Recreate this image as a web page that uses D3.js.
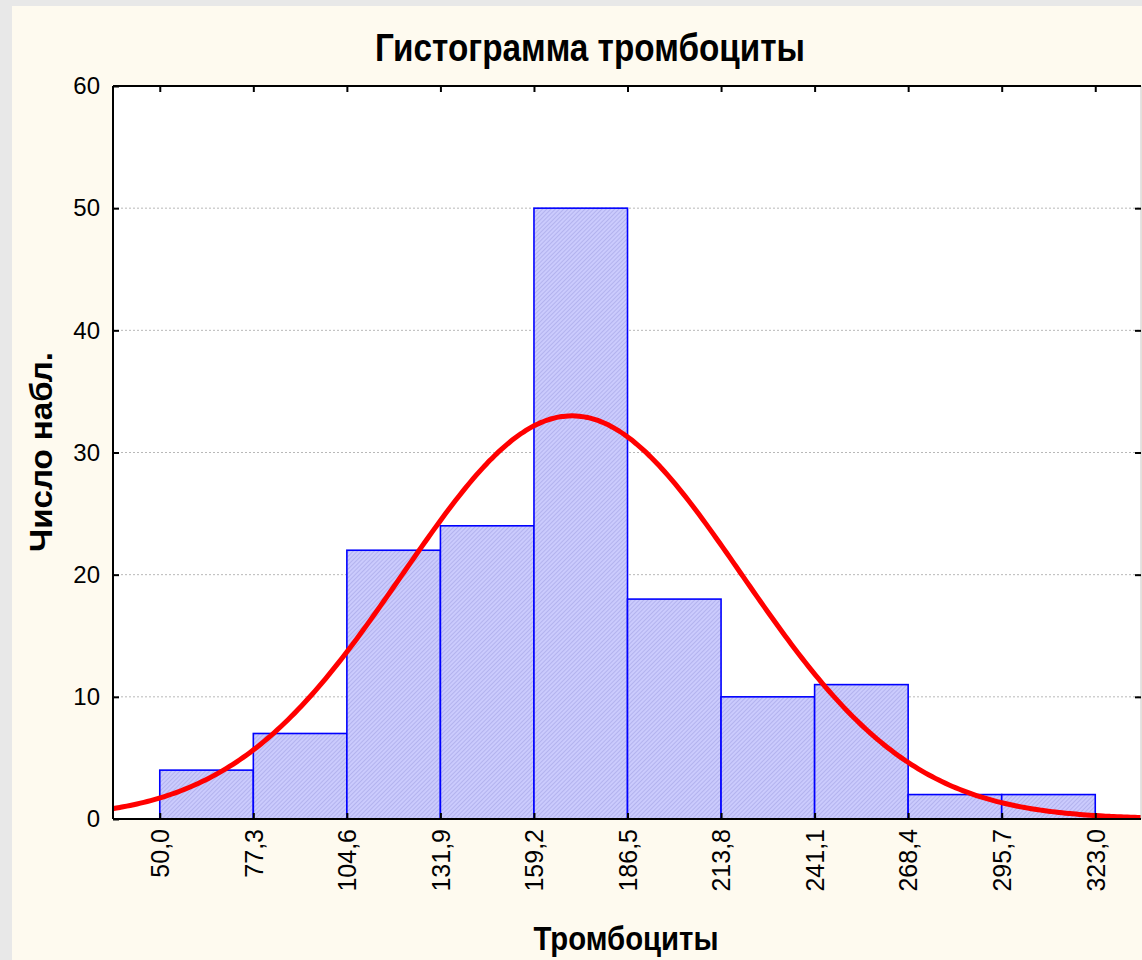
<!DOCTYPE html>
<html><head><meta charset="utf-8">
<script src="https://cdn.jsdelivr.net/npm/d3@7/dist/d3.min.js"></script>
<style>
html,body{margin:0;padding:0;background:#e8e8e8;}
svg{display:block;}
</style></head>
<body>
<script>
const binStarts = [36.35, 63.65, 90.95, 118.25, 145.55, 172.85, 200.15, 227.45, 254.75, 282.05];
const binWidth = 27.3;
const counts = [4, 7, 22, 24, 50, 18, 10, 11, 2, 2];
const xTickValues = [50.0, 77.3, 104.6, 131.9, 159.2, 186.5, 213.8, 241.1, 268.4, 295.7, 323.0];
const yTickValues = [0, 10, 20, 30, 40, 50, 60];
const fitMean = 170.3;
const fitSd = 49.5;
const totalN = 150;

const W = 1142, H = 960;
const m = {left: 113, top: 86, right: 1141, bottom: 819};

const svg = d3.select("body").append("svg").attr("width", W).attr("height", H);
svg.append("rect").attr("x", 12).attr("y", 6).attr("width", W - 12).attr("height", H - 6).attr("fill", "#fefaef");

const defs = svg.append("defs");
const pat = defs.append("pattern").attr("id", "hatch").attr("patternUnits", "userSpaceOnUse")
  .attr("width", 3).attr("height", 3).attr("patternTransform", "rotate(45)");
pat.append("rect").attr("width", 3).attr("height", 3).attr("fill", "#cbcbfd");
pat.append("rect").attr("width", 1).attr("height", 3).attr("fill", "#b3b3ee");
defs.append("clipPath").attr("id", "clip").append("rect")
  .attr("x", m.left).attr("y", m.top).attr("width", m.right - m.left).attr("height", m.bottom - m.top);

const x = d3.scaleLinear().domain([36.35, 336.35]).range([m.left, m.right]);
const y = d3.scaleLinear().domain([0, 60]).range([m.bottom, m.top]);

svg.append("rect").attr("x", m.left).attr("y", m.top).attr("width", m.right - m.left).attr("height", m.bottom - m.top).attr("fill", "#fff");

// gridlines
svg.append("g").selectAll("line").data(yTickValues.filter(v => v > 0 && v < 60)).join("line")
  .attr("x1", m.left).attr("x2", m.right).attr("y1", d => y(d)).attr("y2", d => y(d))
  .attr("stroke", "#b8b8b8").attr("stroke-width", 1).attr("stroke-dasharray", "2,2");

// bars
svg.append("g").selectAll("rect").data(counts).join("rect")
  .attr("x", (d, i) => x(binStarts[i] + binWidth * 0.5))
  .attr("width", x(binWidth) - x(0))
  .attr("y", d => y(d)).attr("height", d => y(0) - y(d))
  .attr("fill", "url(#hatch)").attr("stroke", "#0000ff").attr("stroke-width", 1.6);

// normal curve
const pts = d3.range(36.35, 336.36, 1).map(v => [v, totalN * binWidth / (fitSd * Math.sqrt(2 * Math.PI)) * Math.exp(-0.5 * ((v - fitMean) / fitSd) ** 2)]);
svg.append("path").datum(pts).attr("clip-path", "url(#clip)")
  .attr("d", d3.line().x(d => x(d[0])).y(d => y(d[1])).curve(d3.curveBasis))
  .attr("fill", "none").attr("stroke", "#ff0000").attr("stroke-width", 5);

// frame
svg.append("line").attr("x1", m.right).attr("x2", m.right).attr("y1", m.top).attr("y2", m.bottom).attr("stroke", "#c8c8c8").attr("stroke-width", 1);
svg.append("line").attr("x1", m.left).attr("x2", m.right).attr("y1", m.top).attr("y2", m.top).attr("stroke", "#000").attr("stroke-width", 2);
svg.append("line").attr("x1", m.left).attr("x2", m.right).attr("y1", m.bottom).attr("y2", m.bottom).attr("stroke", "#000").attr("stroke-width", 2);
svg.append("line").attr("x1", m.left).attr("x2", m.left).attr("y1", m.top).attr("y2", m.bottom).attr("stroke", "#000").attr("stroke-width", 2);

const font = "'Liberation Sans', Arial, sans-serif";

// x axis
const xa = svg.append("g").attr("transform", `translate(0,${m.bottom})`)
  .call(d3.axisBottom(x).tickValues(xTickValues).tickSize(-6).tickPadding(10).tickFormat(d => d3.format(".1f")(d).replace(".", ",")));
xa.select(".domain").remove();
xa.selectAll(".tick line").attr("stroke", "#000").attr("stroke-width", 2);
xa.selectAll(".tick text").attr("font-family", font).attr("font-size", 25).attr("fill", "#000")
  .attr("transform", "rotate(-90)").attr("text-anchor", "end").attr("dy", "0.35em").attr("x", -10).attr("y", 0);

const xt = svg.append("g").attr("transform", `translate(0,${m.top})`)
  .call(d3.axisTop(x).tickValues(xTickValues).tickSize(-6).tickFormat(""));
xt.select(".domain").remove();
xt.selectAll(".tick line").attr("stroke", "#000").attr("stroke-width", 2);

// y axis
const ya = svg.append("g").attr("transform", `translate(${m.left},0)`)
  .call(d3.axisLeft(y).tickValues(yTickValues).tickSize(-6).tickPadding(13));
ya.select(".domain").remove();
ya.selectAll(".tick line").attr("stroke", "#000").attr("stroke-width", 2);
ya.selectAll(".tick text").attr("font-family", font).attr("font-size", 24).attr("fill", "#000");

const yr = svg.append("g").attr("transform", `translate(${m.right},0)`)
  .call(d3.axisRight(y).tickValues(yTickValues.filter(v => v > 0 && v < 60)).tickSize(-6).tickFormat(""));
yr.select(".domain").remove();
yr.selectAll(".tick line").attr("stroke", "#000").attr("stroke-width", 2);

// titles
svg.append("text").attr("x", 590).attr("y", 61).attr("text-anchor", "middle")
  .attr("font-family", font).attr("font-weight", "bold").attr("font-size", 38).attr("fill", "#000")
  .attr("textLength", 430).attr("lengthAdjust", "spacingAndGlyphs")
  .text("Гистограмма тромбоциты");
svg.append("text").attr("x", 626).attr("y", 950).attr("text-anchor", "middle")
  .attr("font-family", font).attr("font-weight", "bold").attr("font-size", 33).attr("fill", "#000")
  .attr("textLength", 185).attr("lengthAdjust", "spacingAndGlyphs")
  .text("Тромбоциты");
svg.append("text").attr("transform", "translate(52,452) rotate(-90)").attr("text-anchor", "middle")
  .attr("font-family", font).attr("font-weight", "bold").attr("font-size", 31).attr("fill", "#000")
  .attr("textLength", 200).attr("lengthAdjust", "spacingAndGlyphs")
  .text("Число набл.");
</script>
</body></html>
